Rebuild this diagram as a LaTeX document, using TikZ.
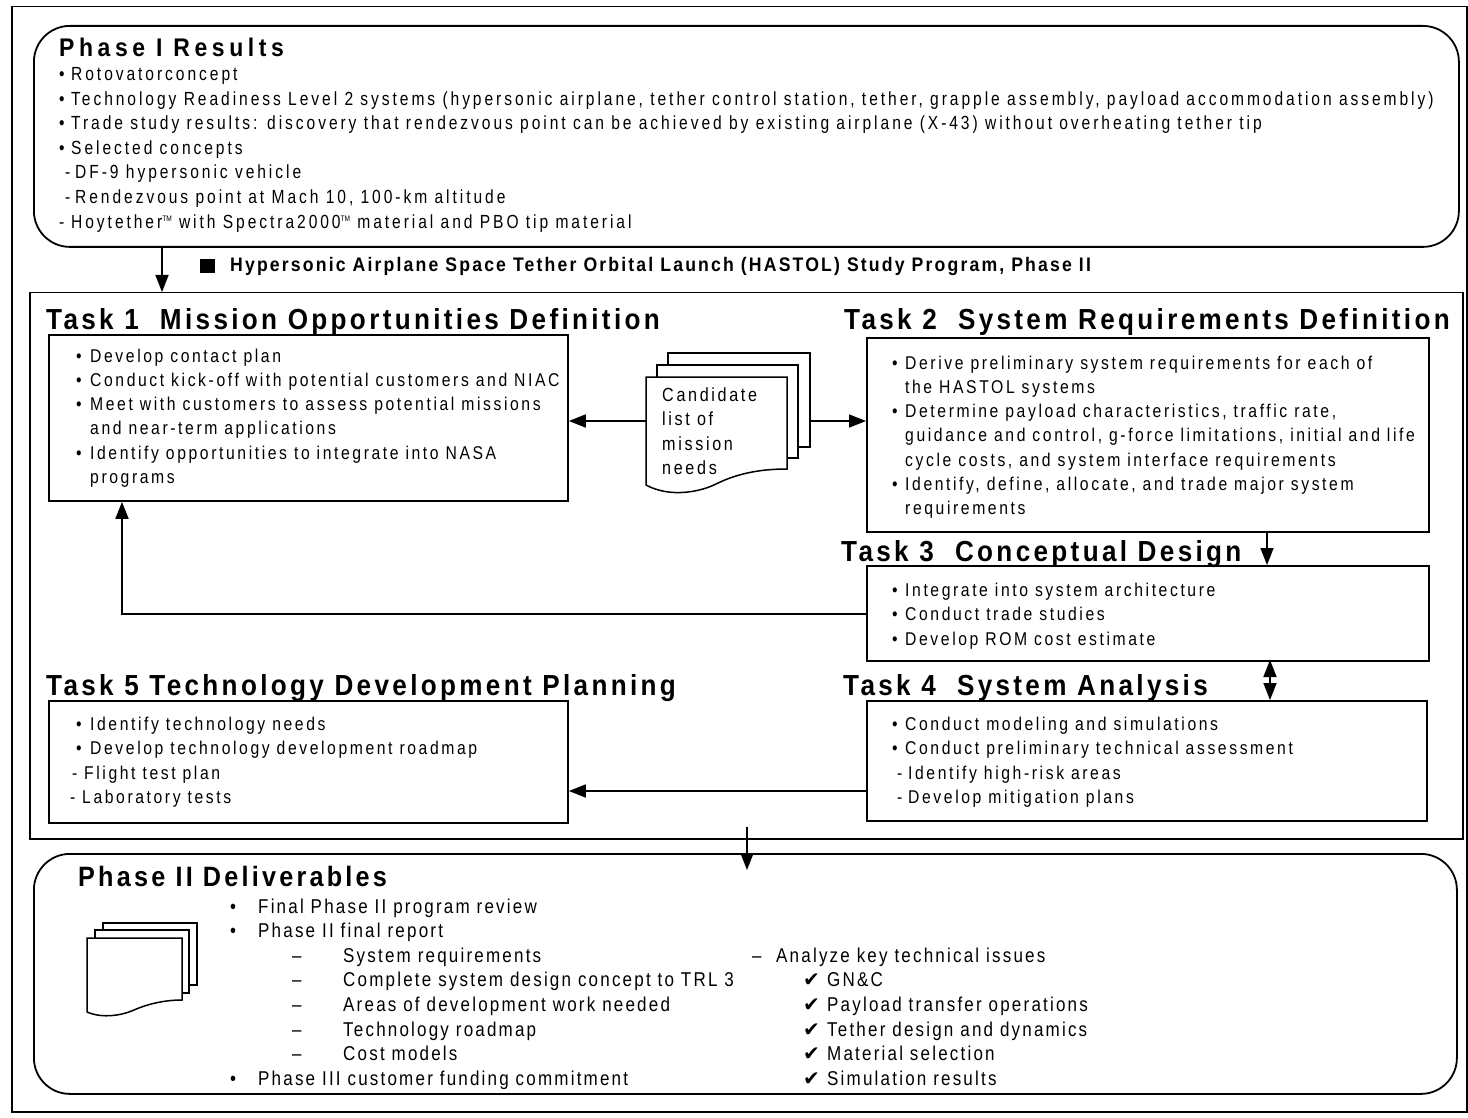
\documentclass[tikz,border=0pt]{standalone}
\usepackage{fontspec}
\setmainfont{Liberation Sans}
\usetikzlibrary{arrows.meta}
\newfontfamily\fbody{Liberation Sans}[FakeStretch=0.85,LetterSpace=14]
\newfontfamily\fpone{Liberation Sans}[FakeStretch=0.82,LetterSpace=15.5]
\newfontfamily\fdel{Liberation Sans}[FakeStretch=0.85,LetterSpace=11]
\newfontfamily\ftitle{Liberation Sans}[FakeStretch=0.9,LetterSpace=11.5]
\newfontfamily\fprog{Liberation Sans}[FakeStretch=0.9,LetterSpace=11]
\newfontfamily\fptitle{Liberation Sans}[FakeStretch=0.9,LetterSpace=18]
\newfontfamily\fsym{DejaVu Sans}
\newcommand\bul[1]{\makebox[#1][l]{•}}
\newcommand\dsh[1]{\makebox[#1][l]{-}}
\newcommand\ndsh[1]{\makebox[#1][l]{–}}
\newcommand\chk[1]{\makebox[#1][l]{\fsym\fontsize{20}{22}\selectfont ✔}}
\newcommand\tmk{\raisebox{0.7ex}{\fontsize{8}{8}\selectfont\addfontfeature{LetterSpace=0}TM}}
\tikzset{
  box/.style={draw, line width=1.8pt, rectangle, inner sep=0pt, anchor=north west},
  rbox/.style={box, rounded corners=36pt},
  arr/.style={-{Triangle[length=17pt,width=13pt]}, line width=1.6pt},
  darr/.style={{Triangle[length=17pt,width=13pt]}-{Triangle[length=17pt,width=13pt]}, line width=1.6pt},
  ln/.style={anchor=base west, inner sep=0pt},
  p1/.style={ln, font=\fpone\fontsize{19}{20}\selectfont},
  tk/.style={ln, font=\fbody\fontsize{18.5}{20}\selectfont},
  dl/.style={ln, font=\fdel\fontsize{20}{22}\selectfont},
  ttl/.style={ln, font=\ftitle\bfseries\fontsize{29}{32}\selectfont},
  page/.style={fill=white, line width=1.5pt},
}
\begin{document}
\begin{tikzpicture}[x=1pt,y=-1pt]
\useasboundingbox (0,0) rectangle (1468,1118);
% frames
\node (outer) [box, line width=1.5pt, minimum width=1455pt, minimum height=1105pt] at (11,6) {};
\node (p1box) [rbox, minimum width=1425pt, minimum height=221pt] at (33,25) {};
\node (p2box) [box, line width=1.5pt, minimum width=1433pt, minimum height=546pt] at (29,292) {};
\node (t1box) [box, minimum width=519pt, minimum height=166pt] at (48,334) {};
\node (t2box) [box, minimum width=562pt, minimum height=194pt] at (866,337) {};
\node (t3box) [box, minimum width=562pt, minimum height=95pt] at (866,565) {};
\node (t4box) [box, minimum width=560pt, minimum height=120pt] at (866,700) {};
\node (t5box) [box, minimum width=519pt, minimum height=122pt] at (48,700) {};
\node (dlbox) [rbox, minimum width=1423pt, minimum height=240pt] at (33,853) {};

% Phase I text
\node (p1t) [ln, font=\fptitle\bfseries\fontsize{25.5}{27}\selectfont] at (59,57) {Phase I Results};
\node (p1a) [p1] at (59,80.5) {\bul{12pt}Rotovatorconcept};
\node (p1b) [p1] at (59,105.1) {\bul{12pt}Technology Readiness Level 2 systems (hypersonic airplane, tether control station, tether, grapple assembly, payload accommodation assembly)};
\node (p1c) [p1] at (59,129.7) {\bul{12pt}Trade study results: discovery that rendezvous point can be achieved by existing airplane (X-43) without overheating tether tip};
\node (p1d) [p1] at (59,154.3) {\bul{12pt}Selected concepts};
\node (p1e) [p1] at (65,178.9) {\dsh{10pt}DF-9 hypersonic vehicle};
\node (p1f) [p1] at (65,203.5) {\dsh{10pt}Rendezvous point at Mach 10, 100-km altitude};
\node (p1g) [p1] at (59,228.1) {\dsh{12pt}Hoytether\tmk{} with Spectra2000\tmk{} material and PBO tip material};

% program title
\node (sq) [fill=black, minimum width=15pt, minimum height=14pt, inner sep=0pt, anchor=north west] at (200,259) {};
\node (prog) [ln, font=\fprog\bfseries\fontsize{19.6}{22}\selectfont] at (230,272) {Hypersonic Airplane Space Tether Orbital Launch (HASTOL) Study Program, Phase II};

% task titles
\node (t1t) [ttl] at (46,329) {Task 1\ \ Mission Opportunities Definition};
\node (t2t) [ttl] at (844,329) {Task 2\ \ System Requirements Definition};
\node (t3t) [ttl] at (841,561) {Task 3\ \ Conceptual Design};
\node (t4t) [ttl] at (843,695) {Task 4\ \ System Analysis};
\node (t5t) [ttl] at (46,695) {Task 5 Technology Development Planning};

% Task 1 text
\node (t1a) [tk] at (76,362) {\bul{14pt}Develop contact plan};
\node (t1b) [tk] at (76,386.3) {\bul{14pt}Conduct kick-off with potential customers and NIAC};
\node (t1c) [tk] at (76,410.6) {\bul{14pt}Meet with customers to assess potential missions};
\node (t1d) [tk] at (90,434.9) {and near-term applications};
\node (t1e) [tk] at (76,459.2) {\bul{14pt}Identify opportunities to integrate into NASA};
\node (t1f) [tk] at (90,483.5) {programs};

% Task 2 text
\node (t2a) [tk] at (892,369) {\bul{13pt}Derive preliminary system requirements for each of};
\node (t2b) [tk] at (905,393.3) {the HASTOL systems};
\node (t2c) [tk] at (892,417.6) {\bul{13pt}Determine payload characteristics, traffic rate,};
\node (t2d) [tk] at (905,441.9) {guidance and control, g-force limitations, initial and life};
\node (t2e) [tk] at (905,466.2) {cycle costs, and system interface requirements};
\node (t2f) [tk] at (892,490.5) {\bul{13pt}Identify, define, allocate, and trade major system};
\node (t2g) [tk] at (905,514.8) {requirements};

% Task 3 text
\node (t3a) [tk] at (892,596) {\bul{13pt}Integrate into system architecture};
\node (t3b) [tk] at (892,620.5) {\bul{13pt}Conduct trade studies};
\node (t3c) [tk] at (892,645) {\bul{13pt}Develop ROM cost estimate};

% Task 4 text
\node (t4a) [tk] at (892,730) {\bul{13pt}Conduct modeling and simulations};
\node (t4b) [tk] at (892,754.5) {\bul{13pt}Conduct preliminary technical assessment};
\node (t4c) [tk] at (897,779) {\dsh{11pt}Identify high-risk areas};
\node (t4d) [tk] at (897,803.5) {\dsh{11pt}Develop mitigation plans};

% Task 5 text
\node (t5a) [tk] at (76,730) {\bul{14pt}Identify technology needs};
\node (t5b) [tk] at (76,754.5) {\bul{14pt}Develop technology development roadmap};
\node (t5c) [tk] at (72,779) {\dsh{12pt}Flight test plan};
\node (t5d) [tk] at (70,803.5) {\dsh{12pt}Laboratory tests};

% candidate document stack
\filldraw[page] (668,353) rectangle (810,447);
\filldraw[page] (657,365) rectangle (798,458);
\filldraw[page] (646,377) -- (787,377) -- (787,469)
  .. controls (765,469) and (740,472) .. (716,484)
  .. controls (700,492) and (670,498) .. (646,485) -- cycle;
\node (cd1) [tk, font=\fbody\fontsize{19}{20}\selectfont] at (662,401.7) {Candidate};
\node (cd2) [tk, font=\fbody\fontsize{19}{20}\selectfont] at (662,425.8) {list of};
\node (cd3) [tk, font=\fbody\fontsize{19}{20}\selectfont] at (662,450) {mission};
\node (cd4) [tk, font=\fbody\fontsize{19}{20}\selectfont] at (662,474.3) {needs};
\coordinate (docL) at (646,421);
\coordinate (docR) at (810,421);

% deliverables
\node (dlt) [ln, font=\ftitle\bfseries\fontsize{28}{30}\selectfont] at (78,886.5) {Phase II Deliverables};
\filldraw[page] (103,923) rectangle (197,985);
\filldraw[page] (95,930) rectangle (189,993);
\filldraw[page] (87,938) -- (182,938) -- (182,1000)
  .. controls (167,1000) and (150,1003) .. (134,1010)
  .. controls (123,1015) and (103,1019) .. (87,1012) -- cycle;
\node (d1) [dl] at (230,913) {\bul{28pt}Final Phase II program review};
\node (d2) [dl] at (230,937.6) {\bul{28pt}Phase II final report};
\node (d3) [dl] at (292,962.2) {\ndsh{51pt}System requirements};
\node (d4) [dl] at (292,986.8) {\ndsh{51pt}Complete system design concept to TRL 3};
\node (d5) [dl] at (292,1011.4) {\ndsh{51pt}Areas of development work needed};
\node (d6) [dl] at (292,1036) {\ndsh{51pt}Technology roadmap};
\node (d7) [dl] at (292,1060.6) {\ndsh{51pt}Cost models};
\node (d8) [dl] at (230,1085.2) {\bul{28pt}Phase III customer funding commitment};
\node (r1) [dl] at (752,962.2) {\ndsh{24pt}Analyze key technical issues};
\node (r2) [dl] at (803,986.8) {\chk{24pt}GN\&C};
\node (r3) [dl] at (803,1011.4) {\chk{24pt}Payload transfer operations};
\node (r4) [dl] at (803,1036) {\chk{24pt}Tether design and dynamics};
\node (r5) [dl] at (803,1060.6) {\chk{24pt}Material selection};
\node (r6) [dl] at (803,1085.2) {\chk{24pt}Simulation results};

% connectors
\coordinate (a1) at (162,246);
\draw[arr] (a1) -- (a1 |- p2box.north);
\draw[arr] (docL) -- (docL -| t1box.east);
\draw[arr] (docR) -- (docR -| t2box.west);
\coordinate (c23) at (1267,531);
\draw[arr] (c23) -- (c23 |- t3box.north);
\coordinate (c34) at (1270,660);
\draw[darr] (c34) -- (c34 |- t4box.north);
\coordinate (fb) at (866,614);
\coordinate (fbc) at (122,614);
\draw[arr] (fb) -- (fbc) -- (fbc |- t1box.south);
\coordinate (c45) at (866,791);
\draw[arr] (c45) -- (c45 -| t5box.east);
\coordinate (cdl) at (747,827);
\coordinate (cdl2) at (747,870);
\draw[arr] (cdl) -- (cdl2);
\end{tikzpicture}
\end{document}
